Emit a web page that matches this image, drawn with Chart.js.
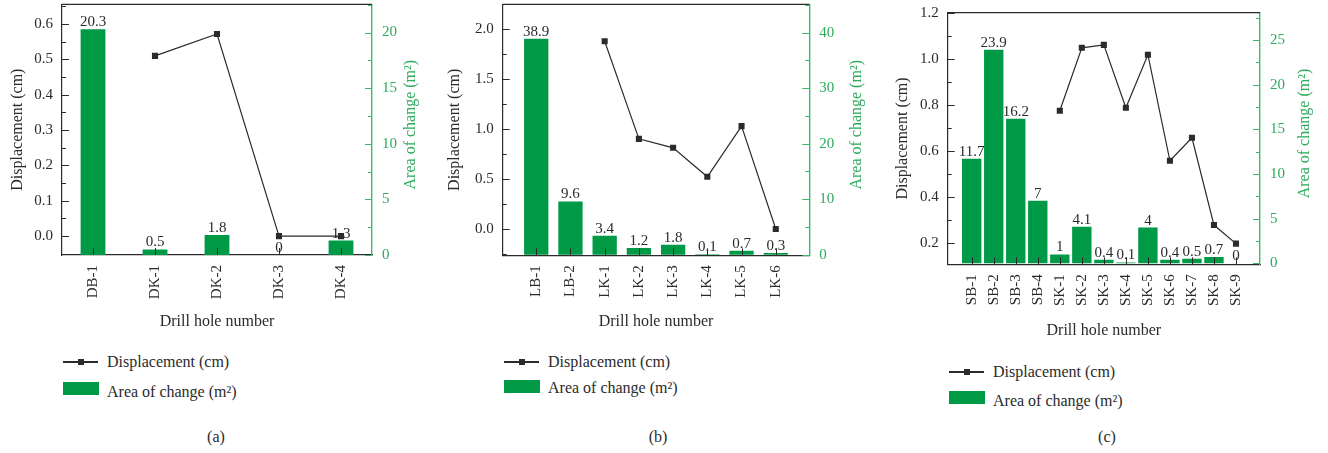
<!DOCTYPE html>
<html><head><meta charset="utf-8">
<script src="https://cdn.jsdelivr.net/npm/chart.js@4.4.0/dist/chart.umd.min.js"></script>
<style>
html,body{margin:0;padding:0;background:#fff;}
body{width:1328px;height:453px;position:relative;overflow:hidden;font-family:"Liberation Serif",serif;color:#2b2b2b;}
canvas{position:absolute;top:0;}
.lt{position:absolute;font-family:"Liberation Serif",serif;font-size:16px;line-height:18px;white-space:nowrap;}
.ll{position:absolute;height:1.4px;}
.lm{position:absolute;width:6px;height:6px;}
.lb{position:absolute;}
.cap{position:absolute;font-family:"Liberation Serif",serif;font-size:16px;line-height:18px;transform:translateX(-50%);}
</style></head><body>
<canvas id="ca" width="430" height="331" style="left:0px"></canvas>
<canvas id="cb" width="440" height="331" style="left:430px"></canvas>
<canvas id="cc" width="448" height="340" style="left:880px"></canvas>
<script>
// ---------- data ----------
const catsA = ['DB-1','DK-1','DK-2','DK-3','DK-4'];
const dispA = [null, 0.51, 0.572, 0, 0];
const areaA = [20.3, 0.5, 1.8, 0, 1.3];

const catsB = ['LB-1','LB-2','LK-1','LK-2','LK-3','LK-4','LK-5','LK-6'];
const dispB = [null, null, 1.88, 0.903, 0.813, 0.523, 1.03, 0.0];
const areaB = [38.9, 9.6, 3.4, 1.2, 1.8, 0.1, 0.7, 0.3];

const catsC = ['SB-1','SB-2','SB-3','SB-4','SK-1','SK-2','SK-3','SK-4','SK-5','SK-6','SK-7','SK-8','SK-9'];
const dispC = [null, null, null, null, 0.776, 1.05, 1.063, 0.789, 1.02, 0.558, 0.658, 0.278, 0.197];
const areaC = [11.7, 23.9, 16.2, 7, 1, 4.1, 0.4, 0.1, 4, 0.4, 0.5, 0.7, 0];

const xTitle = 'Drill hole number';
const yTitle = 'Displacement (cm)';
const y1Title = 'Area of change (m\u00B2)';
const captions = ['(a)', '(b)', '(c)'];

// ---------- style ----------
const FONT = 'Liberation Serif, serif';
const TXT = '#2b2b2b';
const BAR = '#009a46';
const GAX = '#3cb76b';
const GTX = '#2eaa5c';
Chart.defaults.font.family = FONT;
Chart.defaults.font.size = 15;
Chart.defaults.color = TXT;

function stepTicks(s, step) {
  const out = [];
  const a = Math.ceil(s.min / step - 1e-9), b = Math.floor(s.max / step + 1e-9);
  for (let k = a; k <= b; k++) out.push({ value: Math.round(k * step * 1e6) / 1e6 });
  s.ticks = out;
}

const decor = {
  id: 'decor',
  afterDraw(chart, args, o) {
    const ctx = chart.ctx, ca = chart.chartArea;
    ctx.save();
    ctx.strokeStyle = TXT; ctx.lineWidth = 1.2;
    ctx.beginPath(); ctx.moveTo(ca.left, ca.top); ctx.lineTo(ca.right, ca.top); ctx.stroke();
    const vt = (scale, side, color, step) => {
      ctx.strokeStyle = color; ctx.lineWidth = 1;
      const x0 = side === 'l' ? ca.left : ca.right;
      const dir = side === 'l' ? 1 : -1;
      const half = step / 2;
      const start = Math.ceil(scale.min / half - 1e-9);
      const end = Math.floor(scale.max / half + 1e-9);
      for (let k = start; k <= end; k++) {
        const y = Math.round(scale.getPixelForValue(k * half)) + 0.5;
        const len = (k % 2 === 0) ? 7 : 4;
        ctx.beginPath(); ctx.moveTo(x0, y); ctx.lineTo(x0 + dir * len, y); ctx.stroke();
      }
    };
    vt(chart.scales.y, 'l', TXT, o.yStep);
    vt(chart.scales.y1, 'r', GAX, o.y1Step);
    const xs = chart.scales.x;
    ctx.strokeStyle = TXT; ctx.lineWidth = 1;
    xs.ticks.forEach(t => {
      const x = Math.round(xs.getPixelForValue(t.value)) + 0.5;
      ctx.beginPath(); ctx.moveTo(x, ca.bottom); ctx.lineTo(x, ca.bottom - 7); ctx.stroke();
    });
    const meta = chart.getDatasetMeta(1);
    const vals = chart.data.datasets[1].data;
    ctx.fillStyle = TXT; ctx.font = '15px ' + FONT;
    ctx.textAlign = 'center'; ctx.textBaseline = 'alphabetic';
    meta.data.forEach((el, i) => {
      ctx.fillText(String(vals[i].y), el.x, el.y - 3);
    });
    ctx.fillStyle = GTX; ctx.textBaseline = 'middle'; ctx.font = '16px ' + FONT;
    ctx.translate(ca.right + o.rtOff, (ca.top + ca.bottom) / 2 - 5);
    ctx.rotate(-Math.PI / 2);
    ctx.fillText(y1Title, 0, 0);
    ctx.restore();
  }
};

function panel(id, cats, disp, area, L) {
  const font = { family: FONT, size: 15 };
  const tfont = { family: FONT, size: 16 };
  const zeroPad = s => { s.paddingTop = 0; s.paddingBottom = 0; s.paddingLeft = 0; s.paddingRight = 0; };
  const fmt1 = v => (Math.abs(v) < 1e-9 ? 0 : v).toFixed(1);
  return new Chart(document.getElementById(id), {
    type: 'bar',
    data: { datasets: [
      { type: 'line', label: yTitle, data: disp.map((v, i) => ({ x: i, y: v })),
        xAxisID: 'x', yAxisID: 'y', borderColor: TXT, backgroundColor: TXT, borderWidth: 1.2,
        pointStyle: 'rect', pointRadius: 4.3, pointBorderWidth: 0, pointBackgroundColor: TXT,
        spanGaps: false, order: 0 },
      { type: 'bar', label: y1Title, data: area.map((v, i) => ({ x: i, y: v })),
        xAxisID: 'x', yAxisID: 'y1', backgroundColor: BAR, borderWidth: 0,
        categoryPercentage: 1, barPercentage: L.barPct, order: 1 }
    ]},
    options: {
      responsive: false, animation: false, devicePixelRatio: 1, events: [],
      layout: { padding: { top: L.top, left: 0, right: 0, bottom: 0 } },
      plugins: { legend: { display: false }, tooltip: { enabled: false },
        decor: { yStep: L.yStep, y1Step: L.y1Step, rtOff: L.rtOff } },
      scales: {
        x: {
          type: 'linear', offset: false, bounds: 'data', min: -L.xPad, max: cats.length - 1 + L.xPad,
          afterBuildTicks: s => { s.ticks = cats.map((_, i) => ({ value: i })); },
          ticks: { autoSkip: false, minRotation: 90, maxRotation: 90, padding: 10, color: TXT, font,
                   callback: v => cats[v] !== undefined ? cats[v] : '' },
          grid: { display: false, drawTicks: false, offset: false },
          border: { display: true, color: TXT, width: 1.2 },
          title: { display: true, text: xTitle, color: TXT, font: tfont, padding: { top: 0, bottom: 0 } },
          afterFit: s => { s.height = L.xH; zeroPad(s); }
        },
        y: {
          type: 'linear', position: 'left', bounds: 'data', min: L.yMin, max: L.yMax,
          afterBuildTicks: s => stepTicks(s, L.yStep),
          ticks: { padding: 9, color: TXT, font, callback: fmt1 },
          grid: { display: false, drawTicks: false },
          border: { display: true, color: TXT, width: 1.2 },
          title: { display: true, text: yTitle, color: TXT, font: tfont, padding: { top: L.ltPad, bottom: 0 } },
          afterFit: s => { s.width = L.yW; zeroPad(s); }
        },
        y1: {
          type: 'linear', position: 'right', bounds: 'data', min: L.y1Min, max: L.y1Max,
          afterBuildTicks: s => stepTicks(s, L.y1Step),
          ticks: { padding: 10, color: GTX, font, callback: v => String(Math.round(v)) },
          grid: { display: false, drawTicks: false },
          border: { display: true, color: GAX, width: 1.4 },
          title: { display: false },
          afterFit: s => { s.width = L.y1W; zeroPad(s); }
        }
      }
    },
    plugins: [decor]
  });
}

const charts = [
  panel('ca', catsA, dispA, areaA, { top: 4, xH: 76, yW: 62, y1W: 58, xPad: 0.5, barPct: 0.4,
    yMin: -0.0535, yMax: 0.656, yStep: 0.1, y1Min: 0, y1Max: 22.54, y1Step: 5, ltPad: 8, rtOff: 39 }),
  panel('cb', catsB, dispB, areaB, { top: 4, xH: 75.7, yW: 72.7, y1W: 60.7, xPad: 0.98, barPct: 0.71,
    yMin: -0.263, yMax: 2.25, yStep: 0.5, y1Min: -0.1, y1Max: 45.1, y1Step: 10, ltPad: 15.4, rtOff: 47.5 }),
  panel('cc', catsC, dispC, areaC, { top: 12.7, xH: 75.7, yW: 67.7, y1W: 68, xPad: 1.09, barPct: 0.88,
    yMin: 0.107, yMax: 1.203, yStep: 0.2, y1Min: -0.11, y1Max: 28.06, y1Step: 5, ltPad: 13.2, rtOff: 45 })
];

// ---------- HTML legends & captions ----------
const legPos = [
  { x: 63, w: 35, yl: 362, ys: 382, yt2: 392, cap: 216 },
  { x: 504, w: 35, yl: 362, ys: 380, yt2: 387.5, cap: 658 },
  { x: 949, w: 35, yl: 372, ys: 391, yt2: 401, cap: 1107 }
];
charts.forEach((ch, k) => {
  const P = legPos[k];
  const dl = ch.data.datasets[0], db = ch.data.datasets[1];
  const add = (cls, css, txt) => {
    const d = document.createElement('div');
    d.className = cls; d.style.cssText = css;
    if (txt) d.textContent = txt;
    document.body.appendChild(d);
  };
  add('ll', `left:${P.x}px;top:${P.yl - 0.7}px;width:${P.w}px;background:${dl.borderColor}`);
  add('lm', `left:${P.x + P.w / 2 - 3}px;top:${P.yl - 3}px;background:${dl.pointBackgroundColor}`);
  add('lt', `left:${P.x + 44}px;top:${P.yl - 9}px`, dl.label);
  add('lb', `left:${P.x}px;top:${P.ys}px;width:${P.w + 1}px;height:13px;background:${db.backgroundColor}`);
  add('lt', `left:${P.x + 44}px;top:${P.yt2 - 9}px`, db.label);
  add('cap', `left:${P.cap}px;top:428px`, captions[k]);
});
</script>
</body></html>
